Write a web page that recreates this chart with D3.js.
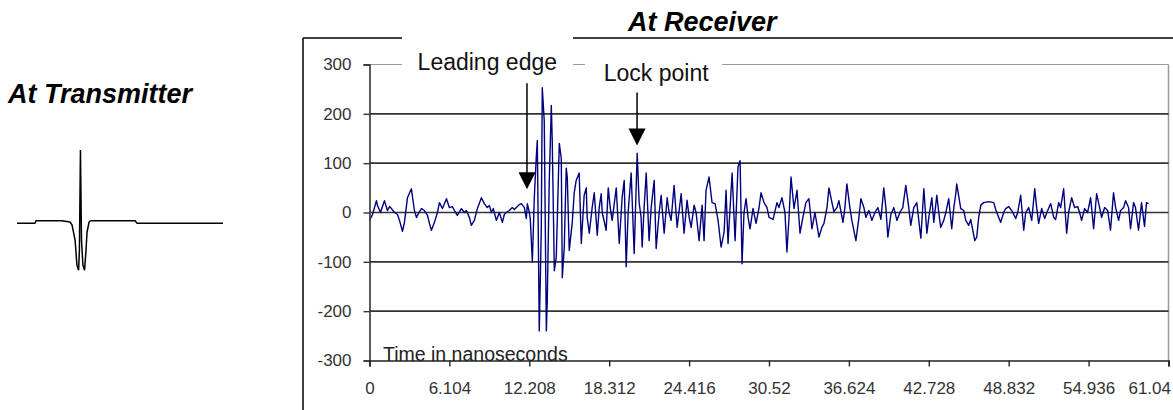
<!DOCTYPE html>
<html>
<head>
<meta charset="utf-8">
<script src="https://cdn.jsdelivr.net/npm/d3@7"></script>
<style>
  html, body { margin: 0; padding: 0; background: #fff; }
  svg { display: block; }
  text { font-family: "Liberation Sans", Arial, sans-serif; }
</style>
</head>
<body>
<svg id="chart" width="1173" height="410"></svg>
<script>
// ---------- DATA ----------
// Receiver waveform (time in ns, amplitude)
const rxTime = [0,0.23,0.53,0.61,0.84,1.14,1.37,1.53,1.68,1.91,2.14,2.29,2.52,2.67,2.90,3.20,3.43,3.59,3.82,3.97,4.20,4.43,4.58,4.73,4.96,5.19,5.34,5.57,5.88,6.10,6.33,6.49,6.71,7.02,7.25,7.40,7.63,7.78,8.01,8.24,8.55,8.77,9.00,9.16,9.31,9.46,9.69,9.92,10.15,10.30,10.45,10.68,10.91,11.06,11.22,11.45,11.60,11.83,11.98,12.06,12.21,12.28,12.44,12.59,12.74,12.82,12.97,13.12,13.20,13.35,13.51,13.58,13.73,13.89,13.96,14.12,14.27,14.50,14.65,14.73,14.88,15.03,15.11,15.26,15.49,15.64,15.79,16.02,16.18,16.40,16.56,16.63,16.79,17.01,17.17,17.40,17.55,17.70,17.78,18.08,18.24,18.39,18.54,18.85,19.08,19.30,19.46,19.61,19.76,19.99,20.22,20.45,20.60,20.75,20.83,20.98,21.14,21.36,21.52,21.75,21.90,22.13,22.28,22.51,22.74,22.89,23.04,23.27,23.50,23.81,24.03,24.26,24.42,24.57,24.80,24.95,25.18,25.41,25.56,25.71,25.94,26.17,26.40,26.63,26.86,27.09,27.24,27.39,27.70,27.93,28.15,28.31,28.46,28.61,28.77,28.92,29.07,29.30,29.53,29.76,29.91,30.14,30.37,30.52,30.83,31.13,31.28,31.51,31.74,31.89,32.05,32.20,32.43,32.66,32.89,33.11,33.34,33.57,33.80,34.03,34.34,34.56,34.72,34.95,35.10,35.33,35.48,35.71,35.86,36.17,36.32,36.47,36.70,36.85,37.16,37.39,37.54,37.77,37.92,38.15,38.38,38.61,38.84,39.07,39.29,39.45,39.60,39.83,40.06,40.29,40.52,40.74,40.97,41.20,41.35,41.58,41.81,42.12,42.35,42.58,42.73,42.96,43.11,43.34,43.49,43.64,43.87,44.03,44.25,44.48,44.64,44.79,44.86,45.17,45.40,45.55,45.78,45.93,46.09,46.24,46.39,46.54,46.70,46.92,47.31,47.69,47.84,48.07,48.22,48.45,48.60,48.83,49.06,49.37,49.52,49.75,49.98,50.13,50.36,50.59,50.82,50.97,51.12,51.35,51.58,51.81,52.04,52.27,52.42,52.65,52.80,53.03,53.26,53.41,53.64,53.87,54.10,54.25,54.40,54.63,54.86,55.09,55.32,55.55,55.70,55.93,56.16,56.39,56.61,56.84,57.00,57.23,57.38,57.61,57.76,57.99,58.14,58.37,58.52,58.75,58.98,59.21,59.36,59.51];
const rxValue = [-16,-4,24,14,0,24,4,12,8,0,-4,-16,-38,-20,30,48,4,-10,2,8,4,-6,-22,-36,-20,0,20,8,28,10,12,4,-6,8,0,4,-10,-26,-16,8,30,18,10,14,0,8,-16,0,-20,-4,0,4,10,6,10,16,18,10,-12,18,0,-12,-100,30,112,146,-240,-40,253,186,-240,-180,60,217,147,-118,-90,140,110,-132,-70,90,72,-77,-20,40,65,80,-63,35,50,-10,-42,10,40,-46,10,38,0,-36,50,10,-16,50,-63,30,65,-110,0,80,-83,120,20,-10,-70,10,80,-57,10,65,-73,0,35,-42,30,0,-16,55,-30,38,-42,25,-10,-30,15,0,-57,15,-57,45,72,20,18,-16,-70,-40,45,-63,80,-57,92,105,-104,0,28,-10,-33,8,-22,10,40,20,10,-10,-14,20,10,30,0,-80,-10,72,8,45,-42,-10,20,28,-33,0,-50,-30,-22,10,50,20,2,10,24,-20,10,58,10,-16,-57,-10,28,10,-10,4,-16,0,10,-14,50,10,-50,-4,10,-16,0,10,55,10,-26,10,20,-52,48,-42,-10,30,-20,35,0,-30,-16,0,28,-33,10,38,58,8,4,-16,-26,-14,-36,-57,-50,-10,15,20,22,20,6,-10,-20,0,8,12,4,-12,0,35,-36,0,10,-16,48,10,-22,8,-12,4,18,-10,-14,20,10,48,-42,0,30,10,12,0,-16,8,0,30,-33,38,20,-10,10,4,-36,40,10,-16,4,10,24,10,-33,20,10,-36,20,-28,20,18];

// Transmitter pulse (arbitrary time units, amplitude relative to peak = 100)
const txTime  = [0,0.87,0.92,2.18,2.57,2.67,2.82,2.91,2.99,3.03,3.08,3.13,3.20,3.28,3.35,3.40,3.50,3.59,5.73,5.83,10];
const txValue = [-1.8,-1.8,1.8,1.8,0,-4,-25,-60,-67,-39,100,-25,-60,-67,-39,-14,0,1.8,1.8,-1.8,-1.8];

// Axes
const xTickValues = [0,6.104,12.208,18.312,24.416,30.52,36.624,42.728,48.832,54.936,61.04];
const xTickLabels = ["0","6.104","12.208","18.312","24.416","30.52","36.624","42.728","48.832","54.936","61.04"];
const yTickValues = [-300,-200,-100,0,100,200,300];
const yTickLabels = ["-300","-200","-100","0","100","200","300"];
const gridValues  = [-200,-100,0,100,200];

// Annotations: [label, arrow time, arrow top value, arrow tip value, label time, label value]
const annoLabels   = ["Leading edge","Lock point"];
const annoTime     = [12.03, 20.44];
const annoTopValue = [262, 243];
const annoTipValue = [47, 136];
const annoTextTime = [9.0, 21.9];
const annoTextVal  = [289, 266];

const titleTx = "At Transmitter";
const titleRx = "At Receiver";
const xAxisTitle = "Time in nanoseconds";

// ---------- DRAW ----------
const svg = d3.select("#chart");
const x = d3.scaleLinear().domain([0, 61.04]).range([369.5, 1168.5]);
const y = d3.scaleLinear().domain([-300, 300]).range([360.5, 64.5]);

// Outer frame
svg.append("line").attr("x1", 303).attr("x2", 1173).attr("y1", 38).attr("y2", 38)
  .attr("stroke", "#000").attr("stroke-width", 1.5);
svg.append("line").attr("x1", 303).attr("x2", 303).attr("y1", 38).attr("y2", 410)
  .attr("stroke", "#000").attr("stroke-width", 1.5);

// Titles
svg.append("text").attr("x", 8).attr("y", 103).text(titleTx)
  .attr("font-size", 27).attr("font-weight", "bold").attr("font-style", "italic").attr("fill", "#000");
svg.append("text").attr("x", 628).attr("y", 31).text(titleRx)
  .attr("font-size", 27).attr("font-weight", "bold").attr("font-style", "italic").attr("fill", "#000");

// Transmitter pulse
const tx = d3.scaleLinear().domain([0, 10]).range([17, 223]);
const ty = d3.scaleLinear().domain([-100, 100]).range([294, 150]);
svg.append("path")
  .attr("d", d3.line().x((d, i) => tx(txTime[i])).y((d, i) => ty(txValue[i]))(txValue))
  .attr("fill", "none").attr("stroke", "#000").attr("stroke-width", 1.5);

// Plot border (top + right, light gray)
svg.append("line").attr("x1", x(0) - 6).attr("x2", x(61.04)).attr("y1", y(300)).attr("y2", y(300))
  .attr("stroke", "#9a9a9a").attr("stroke-width", 1.2);
svg.append("line").attr("x1", x(61.04)).attr("x2", x(61.04)).attr("y1", y(300)).attr("y2", y(-300))
  .attr("stroke", "#9a9a9a").attr("stroke-width", 1.5);

// Gridlines
svg.append("g").selectAll("line").data(gridValues).join("line")
  .attr("x1", x(0)).attr("x2", x(61.04))
  .attr("y1", d => y(d)).attr("y2", d => y(d))
  .attr("stroke", "#333").attr("stroke-width", 1.6);

// Signal
svg.append("path")
  .attr("d", d3.line().x((d, i) => x(rxTime[i])).y((d, i) => y(rxValue[i]))(rxValue))
  .attr("fill", "none").attr("stroke", "#00007f").attr("stroke-width", 1.4)
  .attr("stroke-linejoin", "round");

// X axis title
svg.append("text").attr("x", 383).attr("y", 361).text(xAxisTitle)
  .attr("font-size", 19.5).attr("fill", "#222");

// Y axis
const yAxis = svg.append("g").attr("transform", `translate(${x(0)},0)`)
  .call(d3.axisLeft(y).tickValues(yTickValues).tickSize(6).tickPadding(12)
    .tickFormat((d, i) => yTickLabels[i]));
yAxis.select(".domain").attr("stroke", "#333").attr("stroke-width", 1.6);
yAxis.selectAll(".tick line").attr("stroke", "#333").attr("stroke-width", 1.4);
yAxis.selectAll("text").attr("font-size", 17).attr("fill", "#333")
  .attr("font-family", "'Liberation Sans', Arial, sans-serif");

// X axis
const xAxis = svg.append("g").attr("transform", `translate(0,${y(-300)})`)
  .call(d3.axisBottom(x).tickValues(xTickValues).tickSize(6).tickPadding(15)
    .tickFormat((d, i) => xTickLabels[i]));
xAxis.select(".domain").attr("stroke", "#222").attr("stroke-width", 1.6);
xAxis.selectAll(".tick line").attr("stroke", "#222").attr("stroke-width", 1.4);
xAxis.selectAll("text").attr("font-size", 17).attr("fill", "#333")
  .attr("font-family", "'Liberation Sans', Arial, sans-serif");
xAxis.selectAll(".tick").filter((d, i) => i === xTickValues.length - 1)
  .select("text").attr("text-anchor", "end").attr("x", 2);

// Annotation label boxes + text
const boxes = [[402, 573, 33, 78], [585, 722, 46, 92]];
annoLabels.forEach((lab, i) => {
  const b = boxes[i];
  svg.append("rect").attr("x", b[0]).attr("y", b[2]).attr("width", b[1] - b[0]).attr("height", b[3] - b[2])
    .attr("fill", "#fff");
  svg.append("text").attr("x", x(annoTextTime[i])).attr("y", y(annoTextVal[i]))
    .attr("text-anchor", "middle").attr("font-size", 23).attr("fill", "#111").text(lab);
});

// Annotation arrows
annoLabels.forEach((lab, i) => {
  const ax = x(annoTime[i]);
  const tipY = y(annoTipValue[i]);
  svg.append("line").attr("x1", ax).attr("x2", ax)
    .attr("y1", y(annoTopValue[i])).attr("y2", tipY - 14)
    .attr("stroke", "#000").attr("stroke-width", 1.5);
  svg.append("path")
    .attr("d", `M${ax - 8.5},${tipY - 17}L${ax + 8.5},${tipY - 17}L${ax},${tipY}Z`)
    .attr("fill", "#000");
});
</script>
</body>
</html>
